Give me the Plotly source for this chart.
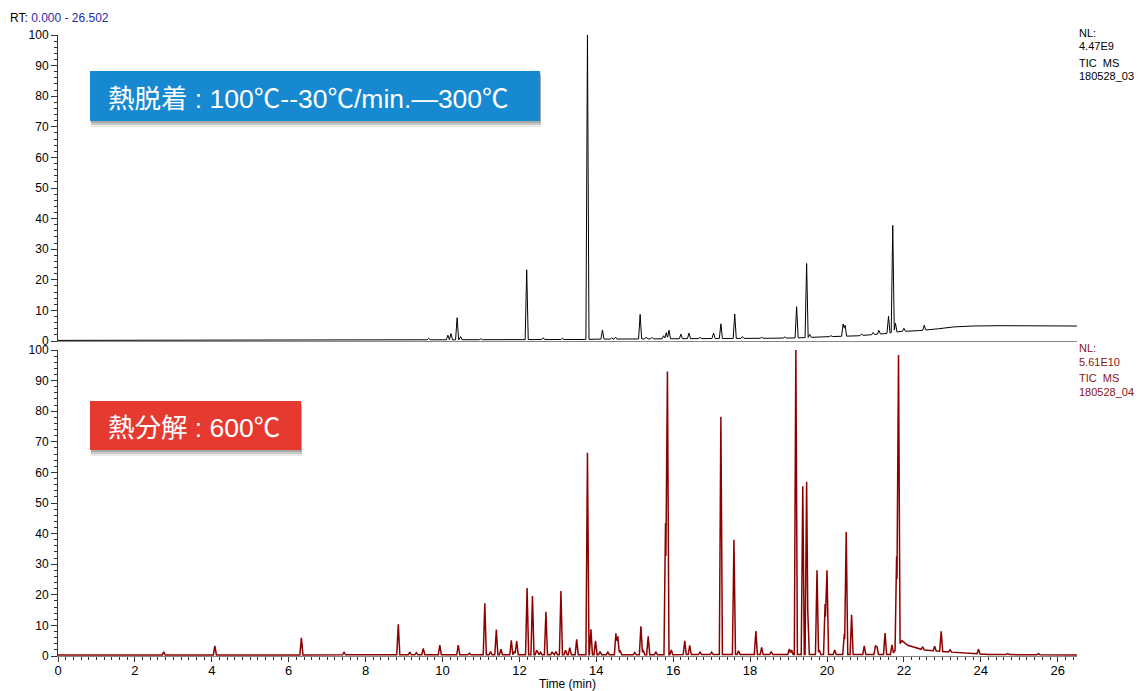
import numpy as np
import plotly.graph_objects as go

# ---------------- data ----------------
# Thermal desorption TIC (top, black): peak retention times (min) and heights (% above baseline)
top_rt = [9.64, 10.14, 10.22, 10.38, 10.47, 11.0, 12.19, 12.62, 13.12, 13.77, 14.16, 14.4, 14.5,
          15.14, 15.3, 15.45, 15.75, 15.82, 15.89, 16.2, 16.41, 16.7, 17.05, 17.24, 17.6, 17.8,
          18.3, 18.9, 19.21, 19.47, 19.55, 20.1, 20.42, 20.47, 20.9, 21.2, 21.35, 21.6, 21.71,
          21.78, 22.0, 22.53]
top_h = [0.5, 1.5, 2.0, 7.2, 1.0, 0.3, 22.8, 0.6, 0.4, 99.5, 3.0, 0.4, 0.6,
         8.0, 0.6, 0.5, 1.0, 2.0, 2.8, 1.5, 1.8, 0.4, 1.8, 4.8, 8.0, 0.6,
         0.3, 0.4, 10.2, 24.2, 1.0, 0.3, 4.0, 3.6, 0.5, 0.7, 1.2, 5.5, 35.0,
         3.0, 1.0, 1.6]
top_base_t = [0, 5, 8, 10, 13.7, 14, 17, 18.5, 19.2, 20, 20.8, 21.5, 21.9, 22.4, 22.9, 23.3, 23.8, 24.5, 26.5]
top_base_h = [0.2, 0.3, 0.4, 0.4, 0.5, 0.6, 0.8, 0.9, 1.0, 1.4, 1.7, 2.4, 3.1, 3.4, 4.0, 4.6, 4.9, 5.0, 4.9]

# Pyrolysis TIC (bottom, dark red)
bot_rt = [2.75, 4.08, 6.33, 7.44, 8.85, 9.15, 9.32, 9.5, 9.93, 10.41, 10.7, 11.1, 11.25, 11.4,
          11.52, 11.79, 11.87, 11.93, 12.2, 12.34, 12.45, 12.55, 12.69, 12.85, 12.95, 13.08,
          13.2, 13.31, 13.49, 13.77, 13.86, 13.98, 14.1, 14.3, 14.51, 14.56, 14.62, 15.0,
          15.16, 15.22, 15.35, 15.55, 15.8, 15.85, 15.95, 16.3, 16.43, 16.7, 17.0, 17.24,
          17.58, 17.7, 18.15, 18.3, 18.55, 19.02, 19.08, 19.19, 19.37, 19.47, 19.5, 19.74,
          19.8, 19.95, 20.0, 20.2, 20.45, 20.5, 20.64, 20.97, 21.26, 21.3, 21.51, 21.69,
          21.81, 21.86, 22.49, 22.8, 22.97, 23.2, 23.94, 24.7, 25.5]
bot_h = [1.0, 3.0, 5.6, 0.8, 10.0, 0.9, 0.7, 2.1, 3.2, 3.2, 0.5, 16.8, 1.0, 8.2,
         1.8, 4.7, 1.0, 4.5, 21.8, 19.2, 1.5, 0.8, 14.0, 0.8, 1.0, 20.8,
         1.5, 2.3, 5.0, 66.0, 8.3, 4.5, 1.0, 0.8, 7.0, 6.0, 1.4, 0.7,
         9.3, 1.5, 6.0, 0.8, 43.0, 92.5, 1.5, 4.5, 3.0, 0.8, 0.8, 77.7,
         37.5, 1.2, 7.7, 2.3, 1.0, 1.8, 1.5, 99.8, 55.0, 56.5, 10.0, 27.5,
         1.5, 16.5, 27.5, 1.5, 6.8, 40.0, 13.0, 2.8, 2.8, 2.5, 7.0, 3.1,
         30.0, 95.0, 1.0, 1.5, 6.5, 0.7, 1.5, 0.3, 0.4]
bot_base_t = [0, 21.7, 21.95, 22.1, 22.5, 23.0, 23.5, 24.2, 26.5]
bot_base_h = [0.3, 0.5, 5.0, 3.5, 2.0, 1.5, 1.0, 0.5, 0.3]

x_ticks = list(range(0, 27, 2))
y_ticks = list(range(0, 101, 10))
x_title = "Time (min)"

CJK = "font-family:Noto Sans CJK JP"
DEG = f"<span style='{CJK}'>℃</span>"
top_text = f"<span style='{CJK}'>熱脱着</span> : 100{DEG}--30{DEG}/min.—300{DEG}"
bot_text = f"<span style='{CJK}'>熱分解</span> : 600{DEG}"
top_info = ["NL:", "4.47E9", "TIC\u00a0\u00a0MS", "180528_03"]
bot_info = ["NL:", "5.61E10", "TIC\u00a0\u00a0MS", "180528_04"]

RT_MAX = 26.502
HW = 0.04  # half width of drawn peaks (min)


def chromatogram(rts, hs, bt, bh):
    xs = set(bt)
    for r in rts:
        xs.update([r - HW, r, r + HW])
    xs = np.array(sorted(x for x in xs if 0 <= x <= RT_MAX))
    base = np.interp(xs, bt, bh)
    peak = np.zeros_like(xs)
    for r, h in zip(rts, hs):
        peak = np.maximum(peak, h * np.clip(1 - np.abs(xs - r) / HW, 0, 1))
    return xs, base + peak


tx, ty = chromatogram(top_rt, top_h, top_base_t, top_base_h)
bx, by = chromatogram(bot_rt, bot_h, bot_base_t, bot_base_h)

RED = "rgb(140,0,0)"
fig = go.Figure()
fig.add_trace(go.Scatter(x=tx, y=ty, mode="lines", line=dict(color="black", width=1),
                         xaxis="x2", yaxis="y2", hoverinfo="skip"))
fig.add_trace(go.Scatter(x=bx, y=by, mode="lines", line=dict(color=RED, width=1.5),
                         xaxis="x", yaxis="y", hoverinfo="skip"))

FONT = "Liberation Sans, Arial, Noto Sans CJK JP"
OFF = 8  # page body margin offset in the browser
L, R, T, B = 58 - OFF, 67, 35 - OFF, 35
W, H = 1144 - OFF, 691 - OFF
PW, PH = W - L - R, H - T - B


def px(x):  # page pixel -> paper
    return (x - OFF - L) / PW


def py(y):  # page pixel -> paper
    return (H - B - (y - OFF)) / PH


yax = dict(range=[0, 100], tickvals=y_ticks, ticks="outside", ticklen=6, tickcolor="#333",
           minor=dict(dtick=2, ticks="outside", ticklen=3, tickcolor="#333"),
           showline=True, linecolor="#333", linewidth=1, showgrid=False, zeroline=False,
           tickfont=dict(size=12, color="black", family=FONT), fixedrange=True,
           automargin=False)

fig.update_layout(
    width=W, height=H, autosize=False,
    margin=dict(l=L, r=R, t=T, b=B),
    plot_bgcolor="white", paper_bgcolor="white",
    showlegend=False,
    font=dict(family=FONT, color="black"),
    xaxis=dict(range=[0, RT_MAX], tickvals=x_ticks, ticks="outside", ticklen=5, tickcolor="#333",
               minor=dict(dtick=0.2, ticks="outside", ticklen=3, tickcolor="#333"),
               showline=True, linecolor="#888", linewidth=1, showgrid=False, zeroline=False,
               tickfont=dict(size=13, color="black", family=FONT), ticklabelstandoff=-3,
               anchor="y", domain=[0, 1], automargin=False),
    xaxis2=dict(range=[0, RT_MAX], showticklabels=False, ticks="", showline=True,
                linecolor="#888", linewidth=1, showgrid=False, zeroline=False,
                anchor="y2", domain=[0, 1], automargin=False),
    yaxis=dict(domain=[0, py(350)], anchor="x", **yax),
    yaxis2=dict(domain=[py(341), 1], anchor="x2", **yax),
)

# x axis title
fig.add_annotation(xref="paper", yref="paper", x=0.5, y=py(684), xanchor="center", yanchor="middle",
                   showarrow=False, text=x_title, font=dict(size=12, color="black", family=FONT))

# label boxes with shadows
boxes = [((90, 71, 540, 121), "#1789d0", top_text),
         ((90, 401, 301, 450), "#e63a31", bot_text)]
for (x0, y0, x1, y1), col, txt in boxes:
    for off, op in [(6, 0.12), (4, 0.2), (2, 0.25)]:
        fig.add_shape(type="rect", xref="paper", yref="paper",
                      x0=px(x0 + 1), x1=px(x1 + 1), y0=py(y1 + off), y1=py(y0 + off),
                      fillcolor="rgb(70,70,70)", opacity=op, line=dict(width=0), layer="above")
    fig.add_shape(type="rect", xref="paper", yref="paper",
                  x0=px(x0), x1=px(x1), y0=py(y1), y1=py(y0),
                  fillcolor=col, line=dict(width=0), layer="above")
    fig.add_annotation(xref="paper", yref="paper", x=px(x0 + 16), y=py((y0 + y1) / 2),
                       xanchor="left", yanchor="middle", showarrow=False, text=txt,
                       font=dict(size=26.5, color="white", family=FONT))

# RT header
fig.add_annotation(xref="paper", yref="paper", x=px(8), y=py(18), xanchor="left", yanchor="middle",
                   showarrow=False,
                   text="RT: <span style='color:#2a2aa8'>0.000 - 26.502</span>",
                   font=dict(size=12, color="black", family=FONT))

# right-side info labels
for lines, ys, col in [(top_info, [33.5, 46.5, 63.5, 76.5], "black"),
                       (bot_info, [348, 361.5, 378, 391.5], "rgb(140,20,20)")]:
    for t, yy in zip(lines, ys):
        fig.add_annotation(xref="paper", yref="paper", x=px(1077), y=py(yy), xanchor="left",
                           yanchor="middle", showarrow=False, text=t,
                           font=dict(size=11, color=col, family=FONT))

fig.write_html("out.html")
